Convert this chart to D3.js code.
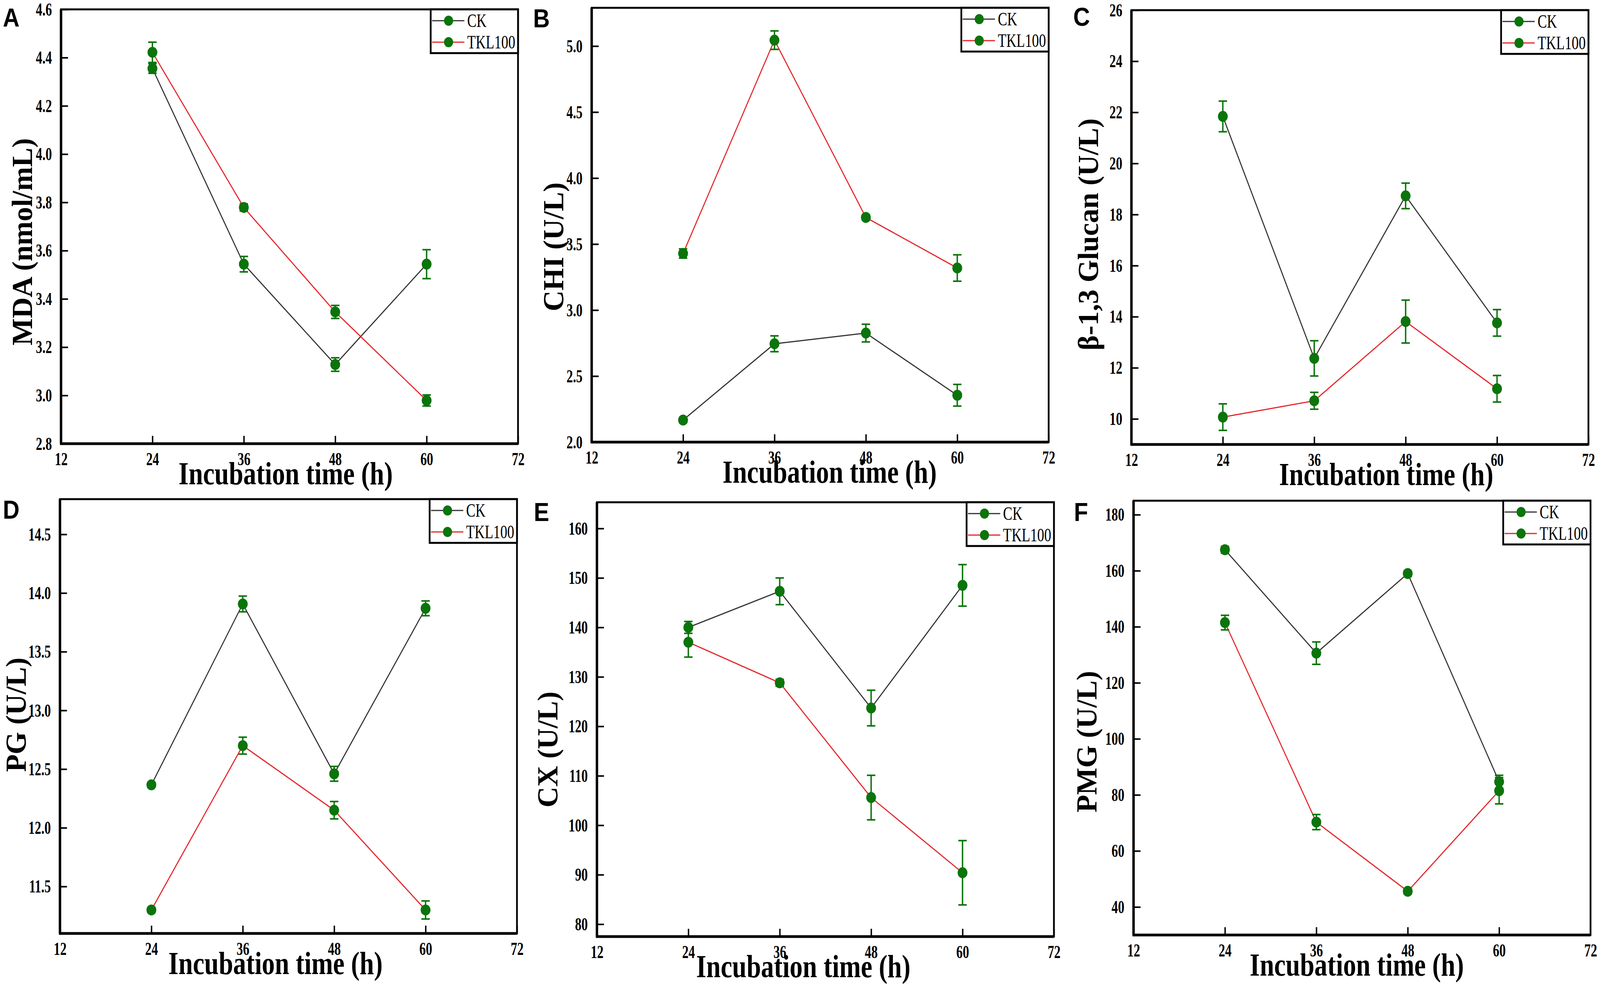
<!DOCTYPE html>
<html>
<head>
<meta charset="utf-8">
<script src="https://cdn.jsdelivr.net/npm/d3@7"></script>
<style>
  html, body { margin: 0; padding: 0; width: 100%; height: 100%; overflow: hidden; background: #fff; }
  svg { display: block; width: 100vw; height: 100vh; }
</style>
</head>
<body>
<script>
// incubation times (h) and axis ticks
var hours = [24, 36, 48, 60];
var xTicks = [12, 24, 36, 48, 60, 72];
var seriesNames = ["CK", "TKL100"];

// A - MDA
var mdaCK = [4.355, 3.544, 3.128, 3.544];
var mdaCKErr = [0.02, 0.032, 0.028, 0.06];
var mdaTKL = [4.422, 3.779, 3.346, 2.979];
var mdaTKLErr = [0.042, 0.015, 0.027, 0.023];
var mdaTicks = [2.8, 3.0, 3.2, 3.4, 3.6, 3.8, 4.0, 4.2, 4.4, 4.6];

// B - CHI
var chiCK = [2.167, 2.745, 2.826, 2.355];
var chiCKErr = [0.02, 0.06, 0.067, 0.082];
var chiTKL = [3.429, 5.045, 3.702, 3.319];
var chiTKLErr = [0.035, 0.07, 0.02, 0.1];
var chiTicks = [2.0, 2.5, 3.0, 3.5, 4.0, 4.5, 5.0];

// C - beta-1,3 glucan
var gluCK = [21.84, 12.37, 18.73, 13.76];
var gluCKErr = [0.6, 0.69, 0.5, 0.52];
var gluTKL = [10.07, 10.71, 13.81, 11.18];
var gluTKLErr = [0.52, 0.33, 0.84, 0.52];
var gluTicks = [10, 12, 14, 16, 18, 20, 22, 24, 26];

// D - PG
var pgCK = [12.366, 13.907, 12.46, 13.87];
var pgCKErr = [0.02, 0.067, 0.063, 0.063];
var pgTKL = [11.30, 12.70, 12.15, 11.30];
var pgTKLErr = [0.02, 0.072, 0.074, 0.077];
var pgTicks = [11.5, 12.0, 12.5, 13.0, 13.5, 14.0, 14.5];

// E - CX
var cxCK = [140.0, 147.3, 123.7, 148.5];
var cxCKErr = [1.2, 2.7, 3.6, 4.2];
var cxTKL = [137.0, 128.8, 105.6, 90.4];
var cxTKLErr = [3.0, 0.7, 4.5, 6.5];
var cxTicks = [80, 90, 100, 110, 120, 130, 140, 150, 160];

// F - PMG
var pmgCK = [167.5, 130.6, 159.0, 84.7];
var pmgCKErr = [1.2, 4.0, 1.0, 2.3];
var pmgTKL = [141.5, 70.3, 45.6, 81.5];
var pmgTKLErr = [2.6, 2.7, 1.0, 4.7];
var pmgTicks = [40, 60, 80, 100, 120, 140, 160, 180];

var panels = [
  {id: "A", title: "MDA (nmol/mL)", ck: mdaCK, ckErr: mdaCKErr, tkl: mdaTKL, tklErr: mdaTKLErr, ticks: mdaTicks, domain: [2.8, 4.6], fmt: ".1f"},
  {id: "B", title: "CHI (U/L)", ck: chiCK, ckErr: chiCKErr, tkl: chiTKL, tklErr: chiTKLErr, ticks: chiTicks, domain: [2.0, 5.29], fmt: ".1f"},
  {id: "C", title: "β-1,3 Glucan (U/L)", ck: gluCK, ckErr: gluCKErr, tkl: gluTKL, tklErr: gluTKLErr, ticks: gluTicks, domain: [9, 26], fmt: "d"},
  {id: "D", title: "PG (U/L)", ck: pgCK, ckErr: pgCKErr, tkl: pgTKL, tklErr: pgTKLErr, ticks: pgTicks, domain: [11.1, 14.8], fmt: ".1f"},
  {id: "E", title: "CX (U/L)", ck: cxCK, ckErr: cxCKErr, tkl: cxTKL, tklErr: cxTKLErr, ticks: cxTicks, domain: [77.5, 165.3], fmt: "d"},
  {id: "F", title: "PMG (U/L)", ck: pmgCK, ckErr: pmgCKErr, tkl: pmgTKL, tklErr: pmgTKLErr, ticks: pmgTicks, domain: [30, 185], fmt: "d"}
];

// where each panel sits on the page (plot box, label and title spots)
var layout = [
  {left: 174, top: 24, lab: [8, 68], yt: [-111, 595], xt: -11},
  {left: 1687, top: 20, lab: [1520, 70], yt: [-109, 612], xt: 27},
  {left: 3226, top: 26, lab: [3060, 66], yt: [-123, 574], xt: 75},
  {left: 171, top: 1278, lab: [8, 1328], yt: [-126, 552], xt: -37},
  {left: 1702, top: 1286, lab: [1522, 1334], yt: [-141, 633], xt: -63},
  {left: 3232, top: 1282, lab: [3062, 1334], yt: [-134, 617], xt: -15}
];
var W = 1303, H = 1112;

var green = "#0b740b";
var lineCol = {CK: "#333333", TKL100: "#e5252b"};
var serif = "'Liberation Serif', 'Times New Roman', serif";

// drawn in the 4562x2522 space and stretched to whatever window we get
var svg = d3.select("body").append("svg")
    .attr("viewBox", "0 0 4562 2522")
    .attr("preserveAspectRatio", "none");
svg.append("rect").attr("width", 4562).attr("height", 2522).attr("fill", "#fff");

function squeeze(sel, k) {
  sel.each(function() {
    var len = this.getComputedTextLength();
    d3.select(this).attr("textLength", len * k).attr("lengthAdjust", "spacingAndGlyphs");
  });
}

var x = d3.scaleLinear().domain([12, 72]).range([0, W]);

panels.forEach(function(p, i) {
  var L = layout[i];
  var g = svg.append("g").attr("transform", "translate(" + L.left + "," + L.top + ")");
  var y = d3.scaleLinear().domain(p.domain).range([H, 0]);

  // axes with inward ticks
  var xa = g.append("g").attr("transform", "translate(0," + H + ")")
      .call(d3.axisBottom(x).tickValues(xTicks).tickSizeInner(-20).tickSizeOuter(0).tickPadding(22));
  var ya = g.append("g")
      .call(d3.axisLeft(y).tickValues(p.ticks).tickSizeInner(-20).tickSizeOuter(0).tickPadding(26)
        .tickFormat(d3.format(p.fmt)));
  [xa, ya].forEach(function(a) {
    a.select(".domain").remove();
    a.selectAll(".tick line").attr("stroke", "#000").attr("stroke-width", 4);
    a.selectAll(".tick text")
      .attr("fill", "#000")
      .style("font-family", serif).style("font-weight", "bold").style("font-size", "47px")
      .call(squeeze, 0.78);
  });

  // frame: heavier left/bottom
  g.append("rect").attr("width", W).attr("height", H)
    .attr("fill", "none").attr("stroke", "#000").attr("stroke-width", 5);
  g.append("line").attr("x1", 0).attr("x2", 0).attr("y1", 0).attr("y2", H)
    .attr("stroke", "#000").attr("stroke-width", 7);
  g.append("line").attr("x1", -3).attr("x2", W).attr("y1", H).attr("y2", H)
    .attr("stroke", "#000").attr("stroke-width", 7);

  var series = [
    {name: "CK", vals: p.ck, err: p.ckErr},
    {name: "TKL100", vals: p.tkl, err: p.tklErr}
  ];
  var line = d3.line().x(function(d) { return x(d[0]); }).y(function(d) { return y(d[1]); });

  series.forEach(function(s) {
    var pts = hours.map(function(h, j) { return [h, s.vals[j], s.err[j]]; });
    g.append("path").attr("d", line(pts)).attr("fill", "none")
      .attr("stroke", lineCol[s.name]).attr("stroke-width", 3);
    var eb = g.append("g").attr("stroke", green).attr("stroke-width", 4);
    pts.forEach(function(d) {
      var cx = x(d[0]), y0 = y(d[1] - d[2]), y1 = y(d[1] + d[2]);
      eb.append("line").attr("x1", cx).attr("x2", cx).attr("y1", y0).attr("y2", y1);
      eb.append("line").attr("x1", cx - 12).attr("x2", cx + 12).attr("y1", y0).attr("y2", y0);
      eb.append("line").attr("x1", cx - 12).attr("x2", cx + 12).attr("y1", y1).attr("y2", y1);
    });
    g.selectAll(null).data(pts).enter().append("circle")
      .attr("cx", function(d) { return x(d[0]); })
      .attr("cy", function(d) { return y(d[1]); })
      .attr("r", 14).attr("fill", green);
  });

  // legend
  var lg = g.append("g").attr("transform", "translate(" + (W - 249) + ",0)");
  lg.append("rect").attr("width", 249).attr("height", 112)
    .attr("fill", "#fff").attr("stroke", "#000").attr("stroke-width", 5);
  seriesNames.forEach(function(n, k) {
    var ry = 29 + k * 55;
    lg.append("line").attr("x1", 4).attr("x2", 96).attr("y1", ry).attr("y2", ry)
      .attr("stroke", lineCol[n]).attr("stroke-width", 3);
    lg.append("circle").attr("cx", 51).attr("cy", ry).attr("r", 13).attr("fill", green);
    lg.append("text").attr("x", 104).attr("y", ry + 16).text(n)
      .style("font-family", serif).style("font-size", "48px").attr("fill", "#000")
      .call(squeeze, 0.83);
  });

  // axis titles
  g.append("text")
    .attr("x", W / 2 + L.xt).attr("y", H + 104)
    .attr("text-anchor", "middle")
    .style("font-family", serif).style("font-weight", "bold").style("font-size", "82px")
    .text("Incubation time (h)")
    .call(squeeze, 0.9);
  g.append("text")
    .attr("transform", "translate(" + (L.yt[0] + 28) + "," + L.yt[1] + ") rotate(-90)")
    .attr("text-anchor", "middle")
    .style("font-family", serif).style("font-weight", "bold").style("font-size", "82px")
    .text(p.title)
    .call(squeeze, 0.9);

  // panel letter
  svg.append("text").attr("x", L.lab[0]).attr("y", L.lab[1])
    .style("font-family", "'Liberation Sans', Arial, sans-serif").style("font-weight", "bold")
    .style("font-size", "66px").text(p.id);
});
</script>
</body>
</html>
